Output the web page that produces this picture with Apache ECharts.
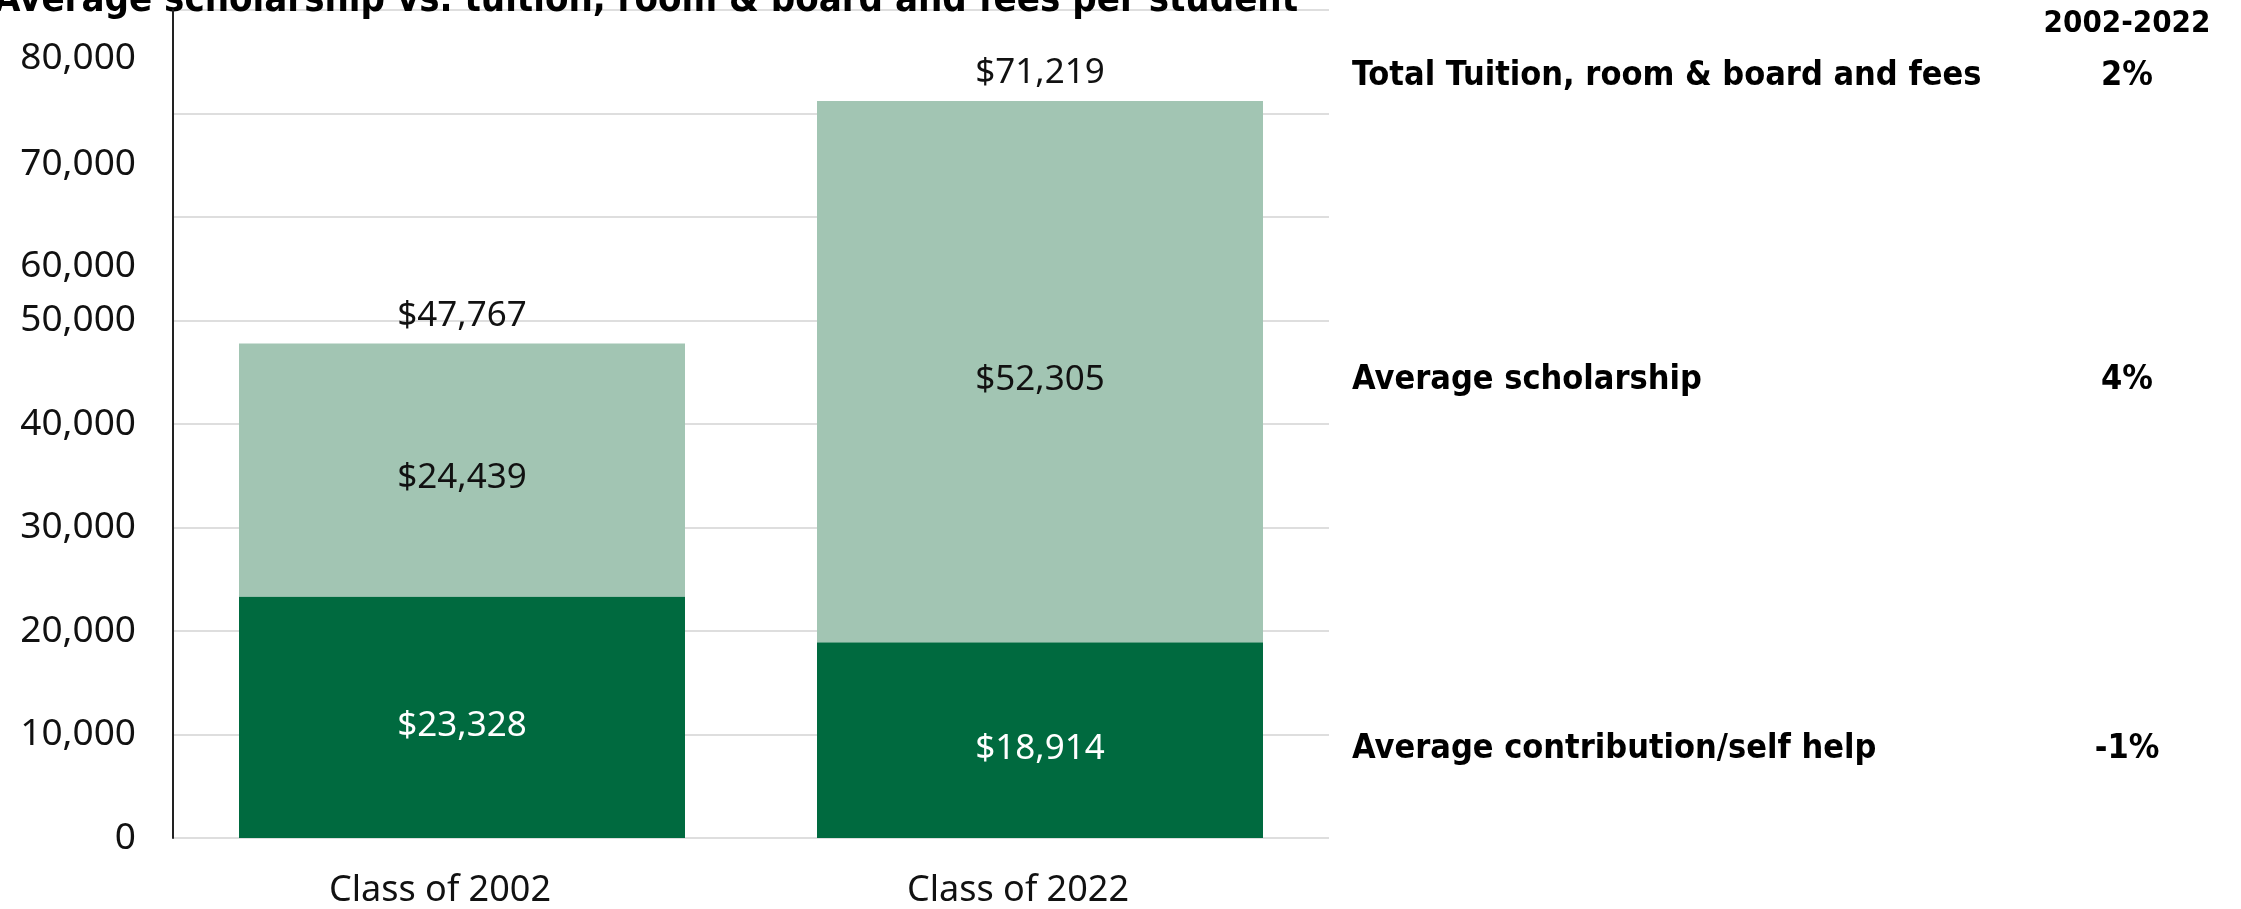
<!DOCTYPE html>
<html><head><meta charset="utf-8">
<script src="https://cdn.jsdelivr.net/npm/echarts@6/dist/echarts.min.js"></script>
<style>html,body{margin:0;padding:0;background:#fff}#c{width:2241px;height:909px}</style>
</head><body><div id="c"></div>
<script>
const title = 'Average scholarship vs. tuition, room & board and fees per student';
const categories = ['Class of 2002', 'Class of 2022'];
const contribution = [23328, 18914];
const scholarship = [24439, 52305];
const totals = [47767, 71219];
const tickValues = [0, 10000, 20000, 30000, 40000, 50000, 55200, 65100, 75300];
const tickLabels = ['0', '10,000', '20,000', '30,000', '40,000', '50,000', '60,000', '70,000', '80,000'];
const rowLabels = ['Total Tuition, room & board and fees', 'Average scholarship', 'Average contribution/self help'];
const changeHeader = '2002-2022';
const changeLabels = ['2%', '4%', '-1%'];

const SANS = '"Noto Sans", "IBM Plex Sans", sans-serif';
const COND = '"Liberation Sans Narrow", "DejaVu Sans Condensed", "Roboto Condensed", sans-serif';
const fmt = v => '$' + v.toLocaleString('en-US');

const chart = echarts.init(document.getElementById('c'), null, {renderer: 'canvas'});
chart.setOption({
  animation: false,
  grid: {left: 173, right: 912, top: 10, bottom: 67, containLabel: false},
  xAxis: {
    type: 'category', data: categories,
    axisLine: {show: false}, axisTick: {show: false},
    axisLabel: {color: '#111', fontSize: 36, fontFamily: SANS, margin: 35, padding: [0, 44, 0, 0]}
  },
  yAxis: {
    type: 'value', min: 0, max: 80000, interval: 10000,
    axisLine: {show: true, lineStyle: {color: '#222', width: 2}},
    axisTick: {show: false},
    splitLine: {lineStyle: {color: '#dedede', width: 2}},
    axisLabel: {
      customValues: tickValues,
      color: '#111', fontSize: 37, fontFamily: SANS, margin: 37, padding: [12, 0, 0, 0],
      formatter: v => { const i = tickValues.indexOf(v); return i >= 0 ? tickLabels[i] : ''; }
    }
  },
  series: [
    {name: 'contribution', type: 'bar', stack: 's', data: contribution, barWidth: 446, barGap: '-100%',
     itemStyle: {color: '#006a3f'},
     label: {show: true, position: 'inside', offset: [0, 9], color: '#fff', fontSize: 35, fontFamily: SANS, formatter: p => fmt(p.value)}},
    {name: 'scholarship', type: 'bar', stack: 's', data: scholarship, barWidth: 446,
     itemStyle: {color: '#a2c5b3'},
     label: {show: true, position: 'inside', offset: [0, 8], color: '#111', fontSize: 35, fontFamily: SANS, formatter: p => fmt(p.value)}},
    {name: 'total', type: 'bar', data: totals, barWidth: 446, barGap: '-100%', z: 1,
     itemStyle: {color: 'rgba(0,0,0,0)'}, silent: true,
     label: {show: true, position: 'top', distance: 10, color: '#111', fontSize: 35, fontFamily: SANS, formatter: p => fmt(p.value)}}
  ]
});

function place() {
  const i = 1;
  const px = v => chart.convertToPixel({gridIndex: 0}, [i, v])[1];
  const yTop = px(totals[i]) - 25;
  const yMid = (px(totals[i]) + px(contribution[i])) / 2 + 9;
  const yLow = (px(contribution[i]) + px(0)) / 2 + 9;
  const ys = [yTop, yMid, yLow];
  const font = 'bold 34px ' + COND;
  const g = [
    {type: 'text', x: -6, y: 20, style: {text: title, font: 'bold 38px ' + COND, fill: '#000', textAlign: 'left', textVerticalAlign: 'bottom'}},
    {type: 'text', x: 2127, y: 24, style: {text: changeHeader, font: 'bold 31px ' + COND, fill: '#000', textAlign: 'center', textVerticalAlign: 'middle'}}
  ];
  rowLabels.forEach((t, k) => {
    g.push({type: 'text', x: 1352, y: ys[k], style: {text: t, font: font, fill: '#000', textAlign: 'left', textVerticalAlign: 'middle'}});
    g.push({type: 'text', x: 2127, y: ys[k], style: {text: changeLabels[k], font: font, fill: '#000', textAlign: 'center', textVerticalAlign: 'middle'}});
  });
  chart.setOption({graphic: g});
}
place();
</script></body></html>
